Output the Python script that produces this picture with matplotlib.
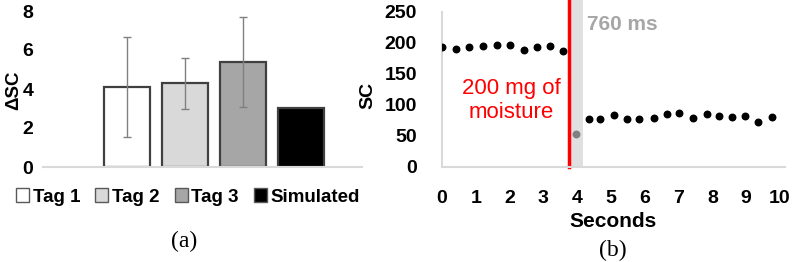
import numpy as np
import matplotlib.pyplot as plt
from matplotlib.patches import Patch

plt.rcParams['font.family'] = ['Liberation Sans', 'DejaVu Sans']

# (a) bar chart data
tags = ['Tag 1', 'Tag 2', 'Tag 3', 'Simulated']
delta_sc = [4.1, 4.3, 5.4, 3.05]
delta_err = [2.55, 1.3, 2.3, 0]
bar_colors = ['white', '#d9d9d9', '#a6a6a6', 'black']

# (b) scatter data
sec_before = [0.01, 0.41, 0.81, 1.20, 1.63, 2.01, 2.43, 2.82, 3.20, 3.57]
sc_before = [192.6, 189.4, 192.6, 194.7, 196.8, 196.8, 187.7, 193.5, 194.7, 187.1]
sec_gap = [3.96]
sc_gap = [52.3]
sec_after = [4.35, 4.69, 5.09, 5.48, 5.84, 6.27, 6.65, 7.0, 7.42, 7.83, 8.2, 8.58, 8.97, 9.36, 9.76]
sc_after = [76.9, 76.9, 82.9, 76.9, 76.4, 78, 85, 86, 78, 84.5, 82.3, 79.7, 82.3, 72.1, 80.6]
event_t = 3.75
delay_end = 4.17

W, H = 799, 262
fig = plt.figure(figsize=(W / 100, H / 100), dpi=100)

def px_axes(left, top, right, bottom):
    return fig.add_axes([left / W, 1 - bottom / H, (right - left) / W, (bottom - top) / H])

# ---- panel (a)
ax1 = px_axes(43, 11, 362, 167)
x = np.arange(1, 5)
ax1.bar(x, delta_sc, width=0.79, color=bar_colors, edgecolor='#404040', linewidth=1.6)
ax1.errorbar(x[:3], delta_sc[:3], yerr=delta_err[:3], fmt='none', ecolor='#808080',
             elinewidth=1, capsize=3, capthick=1)
ax1.set_xlim(-0.45, 5.05)
ax1.set_ylim(0, 8)
ax1.set_yticks([0, 2, 4, 6, 8])
ax1.set_xticks([])
for s in ['top', 'right', 'left']:
    ax1.spines[s].set_visible(False)
ax1.spines['bottom'].set_color('#d9d9d9')
ax1.spines['bottom'].set_linewidth(1.5)
ax1.tick_params(axis='y', length=0, pad=7, labelsize=14)
for lab in ax1.get_yticklabels():
    lab.set_fontweight('bold')
ax1.set_ylabel('ΔSC', fontsize=13.5, fontweight='bold')
ax1.yaxis.set_label_coords(-0.066, 0.49)

handles = [Patch(facecolor=c, edgecolor='#595959', linewidth=1) for c in bar_colors]
fig.legend(handles, tags, loc='center', bbox_to_anchor=(188 / W, 1 - 197 / H), ncol=4,
           frameon=False, handlelength=0.7, handleheight=0.7, handletextpad=0.2,
           columnspacing=0.8, prop={'weight': 'bold', 'size': 13.5})
fig.text(184 / W, 1 - 241 / H, '(a)', ha='center', va='center', fontsize=17,
         family='Liberation Serif')

# ---- panel (b)
ax2 = px_axes(442, 11.7, 785, 166.7)
ax2.set_xlim(0, 10.15)
ax2.set_ylim(0, 250)
top_ext = 166.7 / 155
ax2.axvspan(event_t, delay_end, ymin=0, ymax=top_ext, color='#e0e0e0', clip_on=False, lw=0)
ax2.axvline(event_t, ymin=0, ymax=top_ext, color='#ff0000', lw=2.5, clip_on=False)
ax2.scatter(sec_before, sc_before, s=22, color='black', zorder=3)
ax2.scatter(sec_gap, sc_gap, s=22, color='#808080', zorder=3)
ax2.scatter(sec_after, sc_after, s=22, color='black', zorder=3)
ax2.set_xticks(range(0, 11))
ax2.set_yticks(range(0, 251, 50))
for s in ['top', 'right']:
    ax2.spines[s].set_visible(False)
for s in ['bottom', 'left']:
    ax2.spines[s].set_color('#d9d9d9')
    ax2.spines[s].set_linewidth(1.5)
ax2.tick_params(axis='y', length=0, pad=18, labelsize=14)
ax2.tick_params(axis='x', length=0, pad=17, labelsize=14)
for lab in ax2.get_yticklabels() + ax2.get_xticklabels():
    lab.set_fontweight('bold')
ax2.set_ylabel('SC', fontsize=14, fontweight='bold')
ax2.yaxis.set_label_coords(-0.19, 0.46)
ax2.set_xlabel('Seconds', fontsize=15, fontweight='bold')
ax2.xaxis.set_label_coords(0.5, -0.295)
ax2.text(2.06, 107, '200 mg of\nmoisture', color='#ff0000', fontsize=16,
         ha='center', va='center', linespacing=1.15)
ax2.text(4.3, 230, '760 ms', color='#a6a6a6', fontsize=15, fontweight='bold',
         ha='left', va='center', clip_on=False)
fig.text(613 / W, 1 - 250 / H, '(b)', ha='center', va='center', fontsize=17,
         family='Liberation Serif')

fig.savefig('out.png', dpi=100)
